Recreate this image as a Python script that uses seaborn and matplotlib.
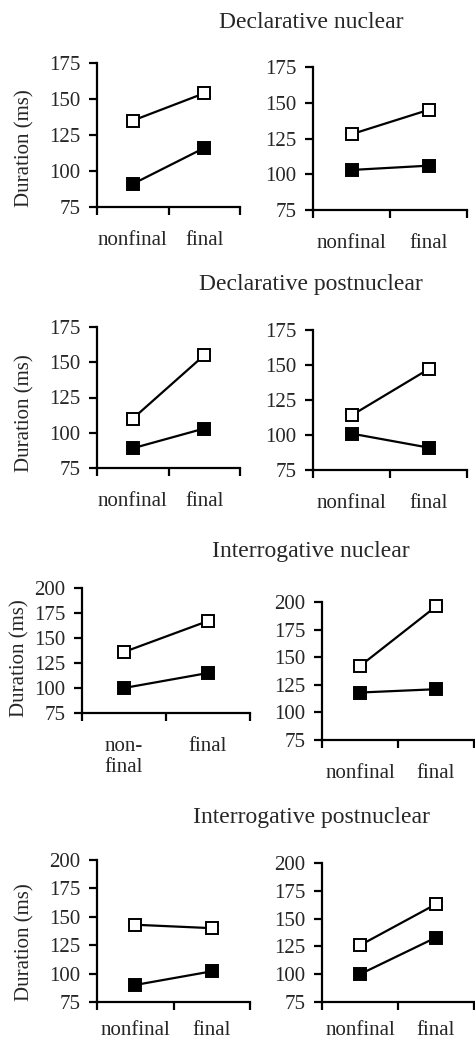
import seaborn as sns
import matplotlib.pyplot as plt
from matplotlib.ticker import FixedLocator

categories = ["nonfinal", "final"]
row_titles = ["Declarative nuclear", "Declarative postnuclear",
              "Interrogative nuclear", "Interrogative postnuclear"]

# open squares (upper series) and filled squares (lower series), panel by panel
open_values = [[135, 154], [128, 145],
               [110, 155], [114, 147],
               [136, 167], [142, 196],
               [143, 140], [126, 163]]
filled_values = [[91, 116], [103, 106],
                 [89, 103], [101, 91],
                 [100, 115], [118, 121],
                 [90, 102], [100, 133]]
y_ranges = [(75, 175), (75, 175), (75, 200), (75, 200)]

sns.set_style("ticks")
plt.rcParams["font.family"] = ["Liberation Serif", "DejaVu Serif"]
plt.rcParams["font.size"] = 15

W, H = 475, 1042
fig = plt.figure(figsize=(W / 100, H / 100), dpi=100)

# panel boxes in pixels: left, right, top, bottom
boxes = [(97, 240, 63, 207), (313, 467, 67, 210),
         (97, 240, 327, 468), (313, 467, 330, 470),
         (82, 250, 588, 713), (322, 474, 602, 740),
         (97, 250, 860, 1002), (322, 474, 863, 1002)]
title_y = [22, 285, 551, 818]
ylabel_pos = [(25, 148), (25, 413), (20, 658), (25, 942)]

for i, (l, r, t, b) in enumerate(boxes):
    ax = fig.add_axes([l / W, 1 - b / H, (r - l) / W, (b - t) / H])
    ax.set_facecolor("none")
    for vals, face in ((open_values[i], "white"), (filled_values[i], "black")):
        sns.lineplot(x=categories, y=vals, ax=ax, sort=False,
                     color="black", linewidth=1.6, marker="s", markersize=8.5,
                     markerfacecolor=face, markeredgecolor="black",
                     markeredgewidth=1.4, clip_on=False)
    lo, hi = y_ranges[i // 2]
    ax.set_ylim(lo, hi)
    ax.set_yticks(range(lo, hi + 1, 25))
    ax.set_xlim(-0.5, 1.5)
    ax.set_xticks([0, 1])
    if i == 4:
        ax.set_xticklabels(["non-\nfinal", "final"])
    else:
        ax.set_xticklabels(categories)
    ax.xaxis.set_minor_locator(FixedLocator([-0.5, 0.5, 1.5]))
    ax.tick_params(axis="x", which="major", length=0,
                   pad=14 if i >= 6 else 17)
    ax.tick_params(axis="x", which="minor", length=6, width=1.6,
                   direction="out", color="black")
    ax.tick_params(axis="y", length=6, width=1.6, pad=6, color="black")
    ax.set_xlabel("")
    ax.set_ylabel("")
    sns.despine(ax=ax)
    for s in ("left", "bottom"):
        ax.spines[s].set_linewidth(1.6)
        ax.spines[s].set_color("black")

for k, ttl in enumerate(row_titles):
    fig.text(311 / W, 1 - title_y[k] / H, ttl, ha="center", va="center",
             fontsize=17)
    x, y = ylabel_pos[k]
    fig.text(x / W, 1 - y / H, "Duration (ms)", rotation=90,
             ha="center", va="center", fontsize=15)

fig.savefig("out.png", dpi=100, facecolor="white")
